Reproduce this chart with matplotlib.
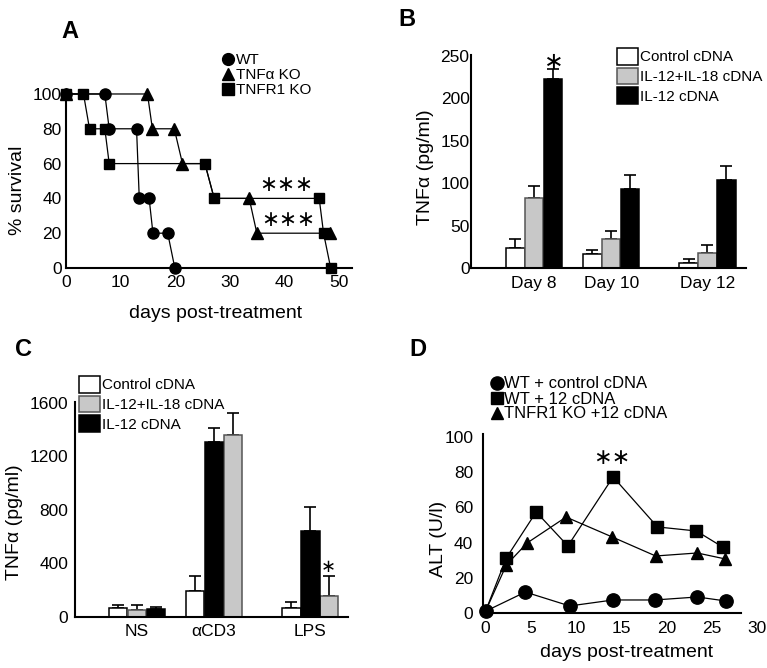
import matplotlib
matplotlib.use("Agg")
import matplotlib.pyplot as plt
from matplotlib.lines import Line2D

plt.rcParams['font.family'] = ['Liberation Sans', 'DejaVu Sans']

W, H = 767, 668

# panel A: survival (%), days post-treatment
wt_days = [0, 7.1, 7.9, 12.9, 13.4, 15.2, 15.9, 18.6, 19.9]
wt_surv = [100, 100, 80, 80, 40, 40, 20, 20, 0]
tnfa_days = [0, 14.9, 15.8, 19.8, 21.3, 25.4, 27.1, 33.5, 34.9, 48.3]
tnfa_surv = [100, 100, 80, 80, 60, 60, 40, 40, 20, 20]
tnfa_marked = [0, 1, 2, 3, 4, 7, 8, 9]
tnfr1_days = [0, 3.2, 4.3, 7.1, 7.9, 25.4, 27.1, 46.3, 47.1, 48.4]
tnfr1_surv = [100, 100, 80, 80, 60, 60, 40, 40, 20, 0]

# panel B: serum TNFa (pg/ml)
b_groups = ['Day 8', 'Day 10', 'Day 12']
b_ctrl = [23.6, 16.5, 5.9]
b_ctrl_err = [10.6, 5.1, 4.7]
b_il1218 = [82.4, 34.5, 17.7]
b_il1218_err = [14.9, 9.8, 9.8]
b_il12 = [222.6, 93.4, 104.0]
b_il12_err = [11.4, 16.5, 16.5]

# panel C: TNFa (pg/ml) after stimulation
c_groups = ['NS', 'αCD3', 'LPS']
c_ctrl = [63, 192, 67]
c_ctrl_err = [25, 115, 45]
c_il1218 = [50, 1360, 157]
c_il1218_err = [38, 162, 148]
c_il12 = [55, 1310, 644]
c_il12_err = [20, 105, 179]

# panel D: ALT (U/l)
d_wt_days = [0, 4.4, 9.3, 14.1, 18.7, 23.4, 26.6]
d_wt = [1, 11.9, 4.0, 7.4, 7.4, 9.1, 6.8]
d_wt12_days = [0, 2.3, 5.6, 9.1, 14.1, 19.0, 23.3, 26.2]
d_wt12 = [1, 31.3, 57.4, 38.1, 77.3, 48.9, 46.6, 37.5]
d_ko12_days = [0, 2.3, 4.6, 8.9, 14.0, 18.8, 23.4, 26.5]
d_ko12 = [1, 27.3, 39.8, 54.5, 43.2, 32.4, 34.1, 30.7]

group_pos = [0, 1, 2.25]
bar_w = 0.24
gray = '#c8c8c8'

fig = plt.figure(figsize=(W / 100, H / 100), dpi=100)


def px_axes(left, top, right, bottom):
    return fig.add_axes([left / W, 1 - bottom / H, (right - left) / W, (bottom - top) / H])


def style(ax, xpad, ypad, size=12.5):
    for s in ['top', 'right']:
        ax.spines[s].set_visible(False)
    for s in ['left', 'bottom']:
        ax.spines[s].set_linewidth(1.5)
    ax.tick_params(length=0, labelsize=size)
    ax.tick_params(axis='x', pad=xpad)
    ax.tick_params(axis='y', pad=ypad)


def stars(ax, x, y, s, fs):
    ax.text(x, y, s, ha='center', va='center', fontsize=fs, family='DejaVu Sans')


def bars(ax, slots, series):
    for k, (vals, errs, face, edge, label) in enumerate(series):
        xs = [group_pos[g] + slots[g][k] * 0.245 for g in range(len(vals))]
        ax.errorbar(xs, vals, yerr=[[0] * len(vals), errs], fmt='none', ecolor='black',
                    elinewidth=1.2, capsize=4.6, capthick=1.2, zorder=1)
        ax.bar(xs, vals, width=bar_w, color=face, edgecolor=edge, linewidth=1.1,
               label=label, zorder=2)


def bar_legend(ax, x, y):
    ax.legend(loc='upper left', bbox_to_anchor=(x / W, 1 - y / H), bbox_transform=fig.transFigure,
              frameon=False, fontsize=11, handlelength=1.4, handleheight=1.3,
              labelspacing=0.2, handletextpad=0.13, borderpad=0, borderaxespad=0)


# ---- A ----
axA = px_axes(66, 90.5, 352, 268)
axA.plot(wt_days, wt_surv, 'k-o', lw=0.9, ms=8, clip_on=False, zorder=3)
axA.plot(tnfa_days, tnfa_surv, 'k-^', lw=0.9, ms=8, markevery=tnfa_marked, clip_on=False, zorder=3)
axA.plot(tnfr1_days, tnfr1_surv, 'k-s', lw=0.9, ms=7.2, clip_on=False, zorder=3)
axA.set_xlim(0, 52.3)
axA.set_ylim(0, 102)
axA.set_xticks([0, 10, 20, 30, 40, 50])
axA.set_yticks([0, 20, 40, 60, 80, 100])
style(axA, 5, 3)
axA.set_ylabel('% survival', fontsize=14, va='center')
axA.yaxis.set_label_coords(-0.171, 0.439)
axA.set_xlabel('days post-treatment', fontsize=14, va='center')
axA.xaxis.set_label_coords(0.524, -0.254)
stars(axA, 40.3, 47.7, '∗∗∗', 15.5)
stars(axA, 40.6, 27.5, '∗∗∗', 15.5)
hA = [Line2D([], [], color='k', marker=m, ls='none', ms=s) for m, s in [('o', 8.5), ('^', 8.5), ('s', 8)]]
axA.legend(hA, ['WT', 'TNFα KO', 'TNFR1 KO'], loc='upper left',
           bbox_to_anchor=(221 / W, 1 - 53 / H), bbox_transform=fig.transFigure,
           frameon=False, fontsize=11, handlelength=0.9, handletextpad=0.05,
           labelspacing=0.07, borderpad=0, borderaxespad=0)

# ---- B ----
axB = px_axes(471, 55, 746, 268.3)
bars(axB, [[-1, 0, 1]] * 3, [
    (b_ctrl, b_ctrl_err, 'white', 'black', 'Control cDNA'),
    (b_il1218, b_il1218_err, gray, '#555555', 'IL-12+IL-18 cDNA'),
    (b_il12, b_il12_err, 'black', 'black', 'IL-12 cDNA'),
])
axB.set_xlim(-0.82, 2.75)
axB.set_ylim(0, 251)
axB.set_xticks(group_pos)
axB.set_xticklabels(b_groups)
axB.set_yticks([0, 50, 100, 150, 200, 250])
style(axB, 5.5, 1)
axB.set_ylabel('TNFα (pg/ml)', fontsize=14, va='center')
axB.yaxis.set_label_coords(-0.165, 0.475)
stars(axB, 0.256, 243, '∗', 17)
bar_legend(axB, 617, 48)

# ---- C ----
axC = px_axes(75, 402.5, 348, 616.7)
bars(axC, [[-1, 0, 1], [-1, 1, 0], [-1, 1, 0]], [
    (c_ctrl, c_ctrl_err, 'white', 'black', 'Control cDNA'),
    (c_il1218, c_il1218_err, gray, '#555555', 'IL-12+IL-18 cDNA'),
    (c_il12, c_il12_err, 'black', 'black', 'IL-12 cDNA'),
])
axC.set_xlim(-0.805, 2.74)
axC.set_ylim(0, 1602)
axC.set_xticks(group_pos)
axC.set_xticklabels(c_groups)
axC.set_yticks([0, 400, 800, 1200, 1600])
style(axC, 5, 5)
axC.set_ylabel('TNFα (pg/ml)', fontsize=14, va='center')
axC.yaxis.set_label_coords(-0.222, 0.443)
stars(axC, 2.49, 372, '∗', 13)
bar_legend(axC, 79, 376)

# ---- D ----
axD = px_axes(483, 434, 761.5, 613)
axD.plot(d_wt12_days, d_wt12, 'k-s', lw=0.9, ms=8.4, markevery=list(range(1, 8)), clip_on=False, zorder=3)
axD.plot(d_ko12_days, d_ko12, 'k-^', lw=0.9, ms=9, markevery=list(range(1, 8)), clip_on=False, zorder=3)
axD.plot(d_wt_days, d_wt, 'k-o', lw=0.9, ms=9.6, clip_on=False, zorder=4)
axD.set_xlim(-0.28, 30.5)
axD.set_ylim(0, 101.7)
axD.spines['bottom'].set_bounds(-0.28, 28.2)
axD.set_xticks([0, 5, 10, 15, 20, 25, 30])
axD.set_yticks([0, 20, 40, 60, 80, 100])
style(axD, 6, 7)
axD.set_ylabel('ALT (U/l)', fontsize=14, va='center')
axD.yaxis.set_label_coords(-0.16, 0.413)
axD.set_xlabel('days post-treatment', fontsize=14, va='center')
axD.xaxis.set_label_coords(0.517, -0.218)
stars(axD, 14.0, 88, '∗∗', 16)
hD = [Line2D([], [], color='k', marker=m, ls='none', ms=s) for m, s in [('o', 9.5), ('s', 8.5), ('^', 9)]]
axD.legend(hD, ['WT + control cDNA', 'WT + 12 cDNA', 'TNFR1 KO +12 cDNA'], loc='upper left',
           bbox_to_anchor=(489 / W, 1 - 376.5 / H), bbox_transform=fig.transFigure,
           frameon=False, fontsize=12, handlelength=0.9, handletextpad=0.0,
           labelspacing=0.0, borderpad=0, borderaxespad=0)

# panel letters
for letter, x, y in [('A', 70, 31.5), ('B', 407, 20), ('C', 23, 350), ('D', 418, 350)]:
    fig.text(x / W, 1 - y / H, letter, ha='center', va='center', fontsize=17, fontweight='bold')

fig.savefig('out.png', dpi=100)
